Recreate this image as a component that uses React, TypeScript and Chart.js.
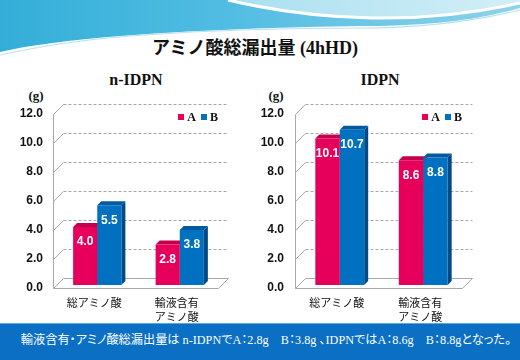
import React, { useEffect, useRef } from "react";
import { Chart, registerables } from "chart.js";

Chart.register(...registerables);

const categories: (string | string[])[] = ["総アミノ酸", ["輸液含有", "アミノ酸"]];
const seriesNames = ["A", "B"];
const nIdpnA = [4.0, 2.8];
const nIdpnB = [5.5, 3.8];
const idpnA = [10.1, 8.6];
const idpnB = [10.7, 8.8];
const yTicks = [0, 2, 4, 6, 8, 10, 12];

const frontColors = ["#E6005C", "#0070C0"];
const sideColors = ["#A3003F", "#004B87"];
const topColors = ["#C4004D", "#005A9E"];

const WALL = 10;
const BAR_DEPTH = 4;
const BAR_SHIFT = 3;

function makePlugin() {
  return {
    id: "threeD",
    beforeDatasetsDraw(chart: any) {
      const { ctx, chartArea: ca, scales } = chart;
      const y = scales.y;
      const x0 = Math.round(ca.left) + 0.5;
      const x1 = Math.round(ca.right) + 0.5;
      ctx.save();
      ctx.strokeStyle = "#a8a8a8";
      ctx.lineWidth = 1;
      const yTop = Math.round(y.getPixelForValue(yTicks[yTicks.length - 1])) + 0.5;
      const yBot = Math.round(y.getPixelForValue(0)) + 0.5;
      ctx.beginPath();
      ctx.moveTo(x0, yTop);
      ctx.lineTo(x0, yBot);
      ctx.stroke();
      yTicks.forEach((v) => {
        const py = Math.round(y.getPixelForValue(v)) + 0.5;
        ctx.setLineDash([]);
        ctx.beginPath();
        ctx.moveTo(x0, py);
        ctx.lineTo(x0 + WALL, py - WALL);
        ctx.stroke();
        if (v === 0) {
          ctx.beginPath();
          ctx.moveTo(x0, py);
          ctx.lineTo(x1, py);
          ctx.lineTo(x1 + WALL, py - WALL);
          ctx.lineTo(x0 + WALL, py - WALL);
          ctx.stroke();
        } else {
          ctx.setLineDash([3, 2]);
          ctx.beginPath();
          ctx.moveTo(x0 + WALL, py - WALL);
          ctx.lineTo(x1 + WALL, py - WALL);
          ctx.stroke();
        }
      });
      ctx.restore();

      ctx.save();
      ctx.translate(BAR_SHIFT, -BAR_SHIFT);
      chart.data.datasets.forEach((_ds: any, i: number) => {
        const meta = chart.getDatasetMeta(i);
        meta.data.forEach((el: any) => {
          const { x, y: top, base, width } = el.getProps(["x", "y", "base", "width"], true);
          const l = x - width / 2;
          const r = x + width / 2;
          ctx.fillStyle = sideColors[i];
          ctx.beginPath();
          ctx.moveTo(r, top);
          ctx.lineTo(r + BAR_DEPTH, top - BAR_DEPTH);
          ctx.lineTo(r + BAR_DEPTH, base - BAR_DEPTH);
          ctx.lineTo(r, base);
          ctx.closePath();
          ctx.fill();
          ctx.fillStyle = topColors[i];
          ctx.beginPath();
          ctx.moveTo(l, top);
          ctx.lineTo(l + BAR_DEPTH, top - BAR_DEPTH);
          ctx.lineTo(r + BAR_DEPTH, top - BAR_DEPTH);
          ctx.lineTo(r, top);
          ctx.closePath();
          ctx.fill();
        });
      });
    },
    afterDatasetsDraw(chart: any) {
      const { ctx } = chart;
      ctx.restore();
      ctx.save();
      ctx.font = "bold 12px 'Liberation Sans', Arial, sans-serif";
      ctx.fillStyle = "#ffffff";
      ctx.textAlign = "center";
      ctx.textBaseline = "middle";
      chart.data.datasets.forEach((ds: any, i: number) => {
        const meta = chart.getDatasetMeta(i);
        meta.data.forEach((el: any, j: number) => {
          const { x, y: top } = el.getProps(["x", "y"], true);
          ctx.fillText(Number(ds.data[j]).toFixed(1), x + BAR_SHIFT, top - BAR_SHIFT + 15);
        });
      });
      ctx.restore();
    },
    afterDraw(chart: any) {
      const { ctx, chartArea: ca } = chart;
      ctx.save();
      ctx.font = "bold 12px 'Liberation Serif', 'Times New Roman', serif";
      ctx.textBaseline = "middle";
      ctx.textAlign = "left";
      const sq = 6;
      const gapSq = 3;
      const gapItem = 5;
      const items = chart.data.datasets.map((ds: any, i: number) => ({
        label: ds.label as string,
        color: frontColors[i],
        w: ctx.measureText(ds.label).width,
      }));
      let total = 0;
      items.forEach((it: any, k: number) => {
        total += sq + gapSq + it.w + (k < items.length - 1 ? gapItem : 0);
      });
      let cx = ca.right - total;
      const cy = ca.top + 3;
      items.forEach((it: any) => {
        ctx.fillStyle = it.color;
        ctx.fillRect(Math.round(cx), Math.round(cy - sq / 2), sq, sq);
        cx += sq + gapSq;
        ctx.fillStyle = "#111111";
        ctx.fillText(it.label, cx, cy + 0.5);
        cx += it.w + gapItem;
      });
      ctx.restore();
    },
  };
}

type ChartProps = {
  a: number[];
  b: number[];
  left: number;
  yWidth: number;
  padRight: number;
  tickPad: number;
};

function BarChart3D({ a, b, left, yWidth, padRight, tickPad }: ChartProps) {
  const ref = useRef<HTMLCanvasElement | null>(null);
  useEffect(() => {
    if (!ref.current) return;
    const chart = new Chart(ref.current, {
      type: "bar",
      data: {
        labels: categories,
        datasets: [
          { label: seriesNames[0], data: a, backgroundColor: frontColors[0], borderWidth: 0, categoryPercentage: 0.585, barPercentage: 1 },
          { label: seriesNames[1], data: b, backgroundColor: frontColors[1], borderWidth: 0, categoryPercentage: 0.585, barPercentage: 1 },
        ],
      },
      options: {
        animation: false,
        responsive: false,
        maintainAspectRatio: false,
        layout: { padding: { top: 23, right: padRight, left: 0, bottom: 0 } },
        plugins: { legend: { display: false }, tooltip: { enabled: false } },
        scales: {
          x: {
            grid: { display: false, drawTicks: false },
            border: { display: false },
            ticks: {
              color: "#111111",
              font: { family: "'Noto Sans CJK JP', sans-serif", size: 11, lineHeight: 1.27 },
              padding: 8,
              maxRotation: 0,
              autoSkip: false,
            },
            afterFit: (s: any) => {
              s.height = 35;
            },
          },
          y: {
            min: 0,
            max: 12,
            grid: { display: false, drawTicks: false },
            border: { display: false },
            afterBuildTicks: (s: any) => {
              s.ticks = yTicks.map((v) => ({ value: v }));
            },
            ticks: {
              color: "#111111",
              font: { family: "'Liberation Sans', Arial, sans-serif", size: 12, weight: "bold" },
              padding: tickPad,
              callback: (v: any) => Number(v).toFixed(1),
            },
            afterFit: (s: any) => {
              s.width = yWidth;
            },
          },
        },
      } as any,
      plugins: [makePlugin()],
    });
    return () => chart.destroy();
  }, []);
  return (
    <canvas
      ref={ref}
      width={260}
      height={232}
      style={{ position: "absolute", left, top: 91, width: 260, height: 232, display: "block" }}
    />
  );
}

const serif = "'Liberation Serif', 'Times New Roman', 'Noto Sans CJK JP', serif";

export default function App() {
  return (
    <div
      style={{
        position: "absolute",
        left: 0,
        top: 0,
        width: 520,
        height: 360,
        background: "#ffffff",
        overflow: "hidden",
        fontFamily: serif,
      }}
    >
      <svg width={520} height={70} style={{ position: "absolute", left: 0, top: 0 }}>
        <defs>
          <linearGradient id="band" x1="0" y1="0" x2="1" y2="0">
            <stop offset="0%" stopColor="#33aed8" />
            <stop offset="45%" stopColor="#52bde2" />
            <stop offset="100%" stopColor="#8fd2ea" />
          </linearGradient>
          <linearGradient id="light" x1="0" y1="0" x2="1" y2="0">
            <stop offset="0%" stopColor="#a9dff0" />
            <stop offset="100%" stopColor="#d3eff7" />
          </linearGradient>
        </defs>
        <path d="M0 0 H520 V8 C470 22 420 26 360 26 C280 27 200 30 120 36 C70 40 30 45 0 52 Z" fill="url(#band)" />
        <path d="M228 0 C270 10 320 17 372 18 C430 19 480 12 520 3 V0 Z" fill="url(#light)" />
        <path d="M228 0 C270 10 320 17 372 18 C430 19 480 12 520 3" fill="none" stroke="#ffffff" strokeWidth={3} />
        <path d="M0 55 C40 46 80 40 130 36 C210 30 290 28 360 28 C420 28 470 22 520 10" fill="none" stroke="#b8e2f0" strokeWidth={1.2} />
      </svg>

      <div
        style={{
          position: "absolute",
          left: 0,
          top: 38,
          width: 510,
          textAlign: "center",
          fontWeight: "bold",
          fontSize: 18,
          lineHeight: "20px",
          color: "#111",
          whiteSpace: "nowrap",
        }}
      >
        アミノ酸総漏出量 (4hHD)
      </div>

      <div style={{ position: "absolute", left: 86, top: 70, width: 100, textAlign: "center", fontWeight: "bold", fontSize: 16, lineHeight: "20px", color: "#111" }}>
        n-IDPN
      </div>
      <div style={{ position: "absolute", left: 330, top: 70, width: 100, textAlign: "center", fontWeight: "bold", fontSize: 16, lineHeight: "20px", color: "#111" }}>
        IDPN
      </div>

      <div style={{ position: "absolute", left: 16, top: 88, width: 40, textAlign: "center", fontWeight: "bold", fontSize: 13, lineHeight: "16px", color: "#111" }}>
        (g)
      </div>
      <div style={{ position: "absolute", left: 256, top: 88, width: 40, textAlign: "center", fontWeight: "bold", fontSize: 13, lineHeight: "16px", color: "#111" }}>
        (g)
      </div>

      <BarChart3D a={nIdpnA} b={nIdpnB} left={0} yWidth={53} padRight={42} tickPad={10} />
      <BarChart3D a={idpnA} b={idpnB} left={260} yWidth={35} padRight={58} tickPad={11} />

      <div
        style={{
          position: "absolute",
          left: 0,
          top: 323,
          width: 520,
          height: 37,
          background: "#0b6fc4",
          borderTop: "1px solid #5aa6dd",
        }}
      />
      <div
        style={{
          position: "absolute",
          left: 0,
          top: 331,
          width: 532,
          textAlign: "center",
          fontSize: 12.2,
          lineHeight: "18px",
          color: "#ffffff",
          whiteSpace: "nowrap",
          fontFeatureSettings: '"palt"',
        }}
      >
        輸液含有・アミノ酸総漏出量は n-IDPNでA：2.8g　B：3.8g 、IDPNではA：8.6g　B：8.8gとなった。
      </div>
    </div>
  );
}
